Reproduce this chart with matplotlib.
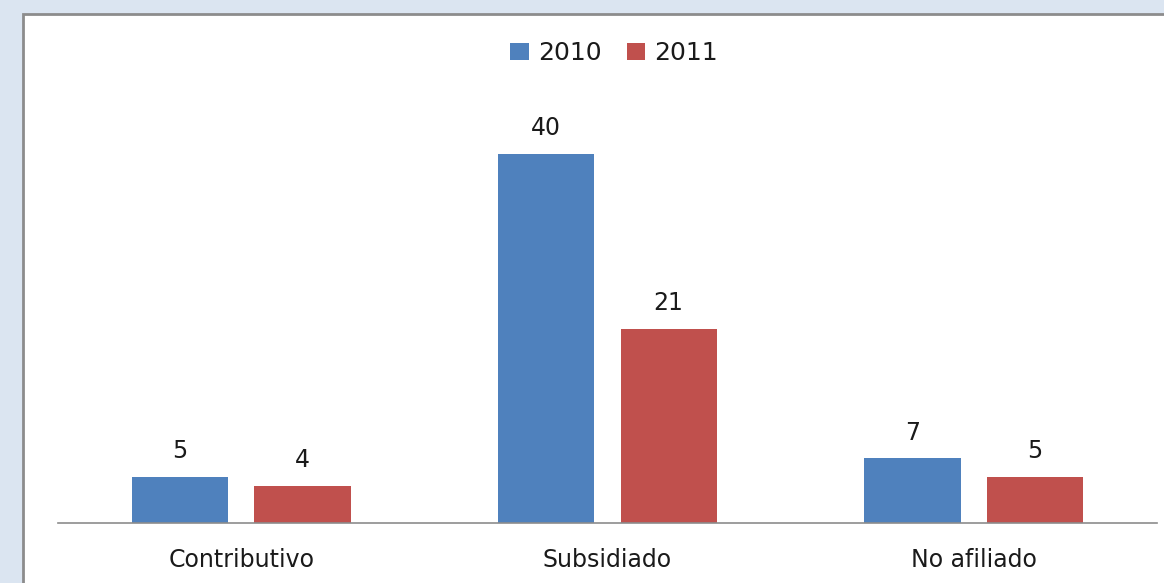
import matplotlib.pyplot as plt
import matplotlib.patches as patches
import numpy as np

# Data
categories = ['Contributivo', 'Subsidiado', 'No afiliado']
series_names = ['2010', '2011']
values_2010 = [5, 40, 7]
values_2011 = [4, 21, 5]

blue = '#4f81bd'
red = '#c0504d'
text_color = '#1a1a1a'

plt.rcParams['font.family'] = ['DejaVu Sans']

fig = plt.figure(figsize=(11.64, 5.83), dpi=100)
fig.patch.set_facecolor('#dbe5f1')

# White chart panel with grey border (runs off right and bottom edges)
panel = patches.Rectangle((23 / 1164, -0.05), 1.2, 1 - 14 / 583 + 0.05,
                          transform=fig.transFigure, facecolor='white',
                          edgecolor='#8c8c8c', linewidth=2, zorder=-5)
fig.patches.append(panel)

ax = fig.add_axes([58 / 1164, 60 / 583, 1099 / 1164, 415 / 583])
ax.set_facecolor('none')

x = np.arange(len(categories))
width = 0.263
offset = 0.167

bars1 = ax.bar(x - offset, values_2010, width, color=blue, label=series_names[0])
bars2 = ax.bar(x + offset, values_2011, width, color=red, label=series_names[1])

for bars in (bars1, bars2):
    for b in bars:
        ax.annotate(f'{int(b.get_height())}',
                    (b.get_x() + b.get_width() / 2, b.get_height()),
                    xytext=(0, 10), textcoords='offset points',
                    ha='center', va='bottom', fontsize=17, color=text_color)

ax.set_xlim(-0.5, 2.5)
ax.set_ylim(0, 45)
ax.set_xticks(x)
ax.set_xticklabels(categories, fontsize=17, color=text_color)
ax.tick_params(axis='x', length=0, pad=18)
ax.set_yticks([])
for side in ('top', 'right', 'left'):
    ax.spines[side].set_visible(False)
ax.spines['bottom'].set_color('#8c8c8c')
ax.spines['bottom'].set_linewidth(1.2)

leg = fig.legend(loc='center', bbox_to_anchor=(614 / 1164, 1 - 53 / 583), ncol=2,
                 frameon=False, fontsize=18, handlelength=0.75, handleheight=0.7,
                 handletextpad=0.35, columnspacing=1.0)
for t in leg.get_texts():
    t.set_color(text_color)

fig.savefig('out.png', dpi=100, facecolor=fig.get_facecolor())
